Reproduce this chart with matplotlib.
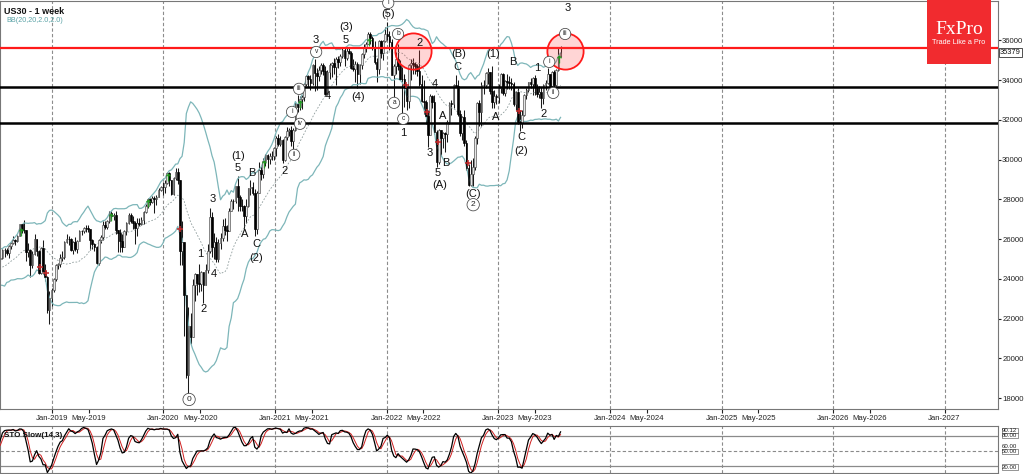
import numpy as np
import pandas as pd
import matplotlib
matplotlib.use("Agg")
import matplotlib.pyplot as plt
import matplotlib.dates as mdates
from matplotlib.patches import Rectangle
import matplotlib.transforms as mtransforms

plt.rcParams['font.family'] = ['Liberation Sans', 'DejaVu Sans']

# ---------------- weekly OHLC data (US30) ----------------
first_open = 25310
close_2018a = [24538, 25335, 24946, 23533, 24103, 23933, 24360, 24463, 24311, 24263,
               24831, 24715, 24753, 24635, 25317, 25090, 24581, 24271, 24456, 25019]
high_2018a = [25800, 25400, 25450, 25000, 24400, 24550, 24500, 24860, 24600, 24400,
              24900, 24970, 25000, 24900, 25400, 25400, 25100, 24700, 24600, 25150]
low_2018a = [24300, 24400, 24800, 23500, 23350, 23350, 23900, 24300, 23800, 23350,
             24150, 24500, 24400, 24200, 24600, 24800, 24500, 24100, 24000, 24400]

close_2018 = [25058, 25451, 25463, 25313, 25669, 25790, 25965, 25917, 26154, 26743, 26458, 26447,
              25340, 25444, 24688, 25270, 25989, 25413, 24286, 25538, 24389, 24100, 22445, 23062]
high_2018 = [25215, 25530, 25560, 25550, 25700, 25880, 26170, 26000, 26200, 26770, 26770, 26950,
             26480, 25800, 25520, 25410, 26280, 26020, 25460, 25590, 25980, 24760, 24130, 23380]
low_2018 = [24880, 24990, 25080, 25190, 25050, 25520, 25740, 25700, 25850, 26150, 26300, 26300,
            24900, 25120, 24120, 24540, 25200, 25150, 24270, 24260, 24240, 23880, 22310, 21710]

close_2019 = [23433, 23996, 24706, 24737, 25064, 25106, 25883, 26031, 26026, 25450, 25849, 25502, 25929,
              26425, 26412, 26559, 26543, 26505, 25942, 25764, 25586, 24815, 25984, 26090, 26719, 26600,
              26922, 27332, 27154, 27192, 26485, 26287, 25886, 25629, 26403, 26797, 27220, 26935, 26820,
              26573, 26817, 26770, 26958, 27347, 27681, 28005, 27876, 28051, 28015, 28135, 28455, 28645]
high_2019 = [23520, 24060, 24740, 24820, 25250, 25400, 25900, 26240, 26160, 26070, 25890, 26110, 25960,
             26460, 26480, 26600, 26700, 26700, 26490, 26000, 25800, 25640, 26000, 26200, 26910, 26930,
             26960, 27400, 27400, 27300, 27400, 26480, 26500, 26250, 26450, 26850, 27300, 27310, 27150,
             26930, 27050, 27080, 27110, 27400, 27780, 28090, 28080, 28170, 28175, 28220, 28600, 28700]
low_2019 = [22640, 23330, 23900, 24480, 24600, 24880, 25020, 25800, 25700, 25400, 25260, 25400, 25300,
            25910, 26210, 26320, 26360, 26340, 25480, 25510, 25390, 24750, 24680, 25800, 25950, 26500,
            26500, 26800, 27050, 26950, 26280, 25340, 25340, 25350, 25640, 26220, 26750, 26800, 26530,
            25740, 26140, 26650, 26710, 26750, 27300, 27580, 27700, 27800, 27330, 27700, 28100, 28400]

close_2020 = [28634, 28823, 29348, 28990, 28256, 29103, 29398, 28992, 25409, 25865, 23185, 19174, 21637,
              21053, 23719, 24242, 23775, 23724, 24331, 23685, 24465, 25383, 27111, 25605, 25871, 25016,
              25827, 26075, 26672, 26470, 26428, 27433, 27931, 27930, 28654, 28133, 27666, 27657, 27174,
              27683, 28586, 28606, 28335, 26502, 28323, 29479, 29263, 29910, 30218, 30046, 30179, 30199]
high_2020 = [28870, 28990, 29375, 29370, 29000, 29150, 29570, 29570, 28900, 26900, 25100, 22400, 22600,
             22300, 24000, 24300, 24100, 24760, 24410, 24200, 24750, 25760, 27580, 27350, 26300, 26100,
             26000, 26300, 27000, 27050, 26700, 27550, 28000, 28000, 28700, 29200, 28200, 28000, 27700,
             28000, 28600, 28960, 28890, 28500, 28400, 29900, 29700, 30100, 30300, 30300, 30350, 30460]
low_2020 = [28200, 28300, 28800, 28700, 28200, 28200, 29000, 28800, 24680, 24700, 21150, 19000, 18210,
            20730, 21700, 22900, 23200, 23350, 23400, 22800, 23800, 24300, 25300, 25100, 25000, 24840,
            24840, 25500, 25900, 26200, 25900, 26400, 27400, 27500, 27800, 27400, 27400, 27400, 26530,
            26800, 27600, 28200, 28200, 26140, 26270, 28700, 29000, 29100, 29700, 29600, 29800, 30000]

close_2021 = [30606, 31098, 30814, 30997, 29983, 31148, 31458, 31494, 30932, 31496, 32779, 32628, 33072,
              33153, 33800, 34200, 34043, 33875, 34778, 34382, 34208, 34529, 34756, 34480, 33290, 34433,
              34786, 34870, 34688, 35061, 34935, 35208, 35515, 35120, 35455, 35369, 34607, 34584, 34798,
              34326, 34746, 35295, 35677, 35820, 36328, 36100, 35602, 34899, 34580, 35971, 35365, 35951, 36338]
high_2021 = [30640, 31200, 31270, 31200, 31050, 31200, 31650, 31600, 31700, 31600, 32900, 33230, 33180,
             33260, 33850, 34260, 34260, 34260, 34830, 35090, 34600, 34700, 34850, 34850, 34700, 34500,
             34850, 34900, 35100, 35180, 35200, 35300, 35630, 35630, 35630, 35630, 35450, 35050, 34950,
             34920, 34800, 35350, 35800, 35900, 36450, 36450, 36200, 35950, 35100, 36000, 36000, 36000, 36700]
low_2021 = [30000, 30200, 30700, 30700, 29850, 29950, 31000, 31200, 30700, 30550, 31430, 32400, 32500,
            32560, 32950, 33700, 33650, 33500, 33740, 33470, 33500, 33950, 34300, 34250, 33270, 33250,
            34050, 34150, 34300, 33740, 34600, 34700, 35100, 34700, 35000, 35300, 34550, 34450, 33900,
            33600, 33800, 34550, 35100, 35400, 35800, 35800, 35500, 34800, 33900, 34300, 35100, 35000, 35900]

close_2022 = [36232, 35912, 34265, 34725, 35089, 34738, 34079, 34059, 33615, 32945, 34755, 34862, 34818,
              34721, 34451, 33811, 32977, 32899, 32197, 31262, 33213, 32900, 31393, 29888, 31501, 31097,
              31338, 31288, 31899, 32845, 32803, 33761, 33706, 32283, 31318, 32151, 30822, 29590, 28725,
              29297, 29635, 31083, 32861, 32403, 33748, 33746, 34347, 34430, 33476, 32920, 33204, 33147]
high_2022 = [36950, 36500, 36070, 34800, 35400, 35800, 35000, 34650, 34300, 33550, 34800, 35050, 35100,
             34900, 34800, 35500, 34250, 34000, 33000, 32500, 33300, 33270, 33250, 31500, 31550, 31500,
             31400, 31400, 32000, 32900, 33000, 33800, 34280, 34000, 32500, 32200, 32500, 31000, 29800,
             30000, 30100, 31200, 32900, 33000, 33900, 34000, 34400, 34600, 34400, 34700, 33500, 33300]
low_2022 = [36000, 35500, 34250, 33150, 34300, 34500, 34000, 32270, 32630, 32500, 32600, 34000, 34300,
            34300, 34200, 33700, 32900, 32300, 31800, 30650, 31250, 32600, 31300, 29650, 29800, 30200,
            30600, 30400, 30900, 31800, 32250, 32600, 33650, 32200, 31200, 31000, 30700, 29500, 28700,
            28700, 28660, 29500, 30800, 31700, 31700, 33300, 33600, 33800, 33300, 32600, 32600, 32800]

close_2023 = [33631, 34303, 33375, 33978, 33926, 33869, 33827, 32817, 33391, 31910, 31862, 32238, 33274,
              33485, 33887, 33809, 34098, 33675, 33301, 33427, 33093, 33763, 33877, 34299, 33727, 34408,
              33734, 34509, 35228, 35379]
high_2023 = [33800, 34350, 34340, 34000, 34330, 34200, 34100, 33900, 33480, 33600, 32500, 32500, 33300,
             33630, 33900, 34100, 34150, 34250, 33800, 33700, 33650, 33800, 34000, 34600, 34300, 34450,
             34500, 34550, 35680, 35700]
low_2023 = [32850, 33350, 33250, 33200, 33580, 33550, 33500, 32700, 32500, 31800, 31430, 31600, 32200,
            33050, 33400, 33600, 33250, 33230, 33150, 33100, 32600, 32800, 33500, 33800, 33700, 33600,
            33600, 33700, 34450, 35150]

first_week = '2018-02-26'

# horizontal levels
red_level = 35600
black_levels = [33680, 31850]
last_price_text = '35379'

# Elliott wave labels
wave_text = ["(1)", "5", "B", "3", "A", "C", "(2)", "1", "4", "2", "2", "4", "3", "(3)", "5", "(4)",
             "(5)", "1", "2", "4", "(B)", "C", "A", "3", "B", "5", "(A)", "(C)", "(1)", "A", "B", "C",
             "(2)", "1", "2", "3"]
wave_date = ["2020-09-01", "2020-09-01", "2020-10-17", "2020-06-11", "2020-09-24", "2020-10-30",
             "2020-10-30", "2020-04-30", "2020-06-15", "2020-05-13", "2021-02-02", "2021-06-23",
             "2021-05-15", "2021-08-21", "2021-08-21", "2021-09-29", "2022-01-06", "2022-02-24",
             "2022-04-20", "2022-06-09", "2022-08-23", "2022-08-20", "2022-07-02", "2022-05-20",
             "2022-07-15", "2022-06-18", "2022-06-22", "2022-10-11", "2022-12-16", "2022-12-25",
             "2023-02-19", "2023-03-17", "2023-03-17", "2023-05-09", "2023-05-28", "2023-08-15"]
wave_price = [30200, 29590, 29340, 28035, 26275, 25775, 25070, 25270, 24265, 22505, 29440, 33210,
              36025, 36680, 36025, 33160, 37330, 31350, 35875, 33815, 35320, 34670, 32205, 30345,
              29845, 29340, 28740, 28285, 35320, 32155, 34920, 31150, 30445, 34620, 32305, 37635]

circ_text = ["0", "ii", "i", "iv", "iii", "v", "i", "b", "a", "c", "2", "i", "ii", "iii"]
circ_date = ["2020-03-25", "2021-03-04", "2021-02-25", "2021-03-23", "2021-03-20", "2021-05-15",
             "2022-01-06", "2022-02-07", "2022-01-25", "2022-02-24", "2022-10-11", "2023-06-17",
             "2023-06-30", "2023-08-08"]
circ_price = [17935, 30245, 32405, 31805, 33565, 35420, 37885, 36325, 32860, 32055, 27735, 34920,
              33360, 36325]

highlight_date = ["2022-03-27", "2023-08-07"]
highlight_price = [35470, 35450]

up_sig_date = ["2018-09-22", "2019-07-13", "2019-11-11", "2020-01-16", "2020-11-25", "2021-03-23",
               "2021-11-04", "2023-07-20"]
up_sig_price = [26377, 27130, 27834, 29141, 29794, 32809, 35925, 35070]
dn_sig_date = ["2018-11-23", "2018-12-12", "2020-02-24", "2022-03-06", "2022-05-13", "2022-06-18",
               "2022-09-25", "2023-03-11"]
dn_sig_price = [24618, 24317, 26528, 33764, 32407, 30899, 29844, 32457]

stoch_labels = ["90.12", "80.00", "60.00", "50.00", "20.00"]
stoch_label_vals = [92.0, 82.0, 59.5, 49.0, 17.0]

# ---------------- assemble ----------------
closes = np.array(close_2018a + close_2018 + close_2019 + close_2020 + close_2021 + close_2022 + close_2023, float)
highs = np.array(high_2018a + high_2018 + high_2019 + high_2020 + high_2021 + high_2022 + high_2023, float)
lows = np.array(low_2018a + low_2018 + low_2019 + low_2020 + low_2021 + low_2022 + low_2023, float)
opens = np.concatenate([[first_open], closes[:-1]])
highs = np.maximum(highs, np.maximum(opens, closes))
lows = np.minimum(lows, np.minimum(opens, closes))
dates = pd.date_range(first_week, periods=len(closes), freq='W-MON')
x = mdates.date2num(dates.to_pydatetime())

s_close = pd.Series(closes)
mid = s_close.rolling(20).mean()
sd = s_close.rolling(20).std(ddof=0)
upper = mid + 2 * sd
lower = mid - 2 * sd

ll = pd.Series(lows).rolling(14).min()
hh = pd.Series(highs).rolling(14).max()
K = 100 * (s_close - ll).rolling(3).sum() / (hh - ll).rolling(3).sum()
D = K.rolling(3).mean()

# ---------------- figure ----------------
W, H = 1024, 474
fig = plt.figure(figsize=(W / 100, H / 100), dpi=100)
fig.patch.set_facecolor('white')

ax = fig.add_axes([0.0, 1 - 409 / H, 998 / W, 408 / H])
ax2 = fig.add_axes([0.0, 1 - 473 / H, 998 / W, 47.5 / H])

xmin = mdates.date2num(pd.Timestamp('2018-07-15'))
xmax = mdates.date2num(pd.Timestamp('2027-06-25'))

# grid (Jan of each year)
for yr in range(2019, 2028):
    gx = mdates.date2num(pd.Timestamp(f'{yr}-01-01'))
    for a in (ax, ax2):
        a.axvline(gx, color='#8c8c8c', lw=0.8, ls=(0, (3, 2)), zorder=0)

# candles
up = closes >= opens
ax.vlines(x, lows, highs, color='#1a1a1a', lw=0.75, zorder=2)
body_bot = np.minimum(opens, closes)
body_h = np.maximum(np.abs(closes - opens), 8)
ax.bar(x[up], body_h[up], bottom=body_bot[up], width=5.5, color='#e6e6e6', edgecolor='#4a4a4a',
       lw=0.45, zorder=3)
ax.bar(x[~up], body_h[~up], bottom=body_bot[~up], width=5.5, color='#000000', edgecolor='#000000',
       lw=0.45, zorder=3)

# Bollinger
ax.plot(x, upper, color='#7db6b9', lw=0.9, zorder=2)
ax.plot(x, lower, color='#7db6b9', lw=0.9, zorder=2)
ax.plot(x, mid, color='#8e9c9c', lw=0.6, ls=(0, (2, 2)), zorder=2)

# levels
ax.axhline(red_level, color='#ff1a1a', lw=1.6, zorder=4)
for lv in black_levels:
    ax.axhline(lv, color='black', lw=1.8, zorder=4)

# highlight circles
hx = mdates.date2num(pd.to_datetime(highlight_date).to_pydatetime())
ax.scatter(hx, highlight_price, s=680, facecolor=(1, 0.25, 0.25, 0.22), edgecolor='#ff1a1a',
           lw=1.3, zorder=5)

# signals
ux = mdates.date2num(pd.to_datetime(up_sig_date).to_pydatetime())
dx = mdates.date2num(pd.to_datetime(dn_sig_date).to_pydatetime())
ax.scatter(ux, up_sig_price, marker=r'$\uparrow$', s=28, color='#1f9a1f', zorder=6, lw=0.3)
ax.scatter(dx, dn_sig_price, marker='+', s=22, color='#c0282a', zorder=6, lw=1.1)

# wave labels
wx = mdates.date2num(pd.to_datetime(wave_date).to_pydatetime())
for t, xx, yy in zip(wave_text, wx, wave_price):
    ax.text(xx, yy, t, ha='center', va='center', fontsize=8, color='#111111', zorder=7)
cx = mdates.date2num(pd.to_datetime(circ_date).to_pydatetime())
for t, xx, yy in zip(circ_text, cx, circ_price):
    fs = 6 if t in ('0', '2') else 4.8
    ax.text(xx, yy, t, ha='center', va='center', fontsize=fs, color='#222222', zorder=7,
            bbox=dict(boxstyle='circle,pad=0.32', fc='white', ec='#444444', lw=0.55))

ax.set_xlim(xmin, xmax)
ax.set_ylim(17455, 37985)
ax.yaxis.tick_right()
ax.set_yticks(np.arange(18000, 36001, 2000))
ax.tick_params(axis='y', labelsize=5.6, length=2, pad=1, colors='#222222', direction='out')
tick_dates = []
for yr in range(2019, 2028):
    tick_dates.append(pd.Timestamp(f'{yr}-01-01'))
    if yr < 2027:
        tick_dates.append(pd.Timestamp(f'{yr}-05-01'))
ax.set_xticks(mdates.date2num([d.to_pydatetime() for d in tick_dates]))
ax.xaxis.set_major_formatter(mdates.DateFormatter('%b-%Y'))
ax.tick_params(axis='x', labelsize=5.6, length=3, pad=1.5, colors='#222222', direction='out')
for sp in ax.spines.values():
    sp.set_color('#777777')
    sp.set_linewidth(0.8)

# last price tag
trans = mtransforms.blended_transform_factory(ax.transAxes, ax.transData)
ax.text(1.002, 35379, last_price_text, transform=trans, fontsize=5.4, va='center', ha='left',
        color='#111111', bbox=dict(boxstyle='square,pad=0.12', fc='white', ec='#333333', lw=0.6),
        zorder=8, clip_on=False)

ax.text(0.004, 0.985, 'US30 - 1 week', transform=ax.transAxes, fontsize=6.5, fontweight='bold',
        ha='left', va='top', color='#111111')
ax.text(0.006, 0.962, 'BB(20,20,2.0,2.0)', transform=ax.transAxes, fontsize=5.2,
        ha='left', va='top', color='#5aa2a6')

# stochastic panel
ax2.plot(x, D, color='#d02020', lw=0.7, zorder=3)
ax2.plot(x, K, color='black', lw=0.9, zorder=4)
ax2.axhline(80, color='#8a8a8a', lw=0.9, zorder=1)
ax2.axhline(20, color='#8a8a8a', lw=0.9, zorder=1)
ax2.axhline(50, color='#8a8a8a', lw=0.8, ls=(0, (3, 2)), zorder=1)
ax2.set_xlim(xmin, xmax)
ax2.set_ylim(5, 102.5)
ax2.set_xticks([])
ax2.set_yticks([])
for sp in ax2.spines.values():
    sp.set_color('#777777')
    sp.set_linewidth(0.8)
ax2.text(0.004, 0.86, 'STO Slow(14,3)', transform=ax2.transAxes, fontsize=5.8, fontweight='bold',
         ha='left', va='top', color='#111111', zorder=6)
trans2 = mtransforms.blended_transform_factory(ax2.transAxes, ax2.transData)
for lab, v in zip(stoch_labels, stoch_label_vals):
    boxed = lab != '60.00'
    kw = dict(bbox=dict(boxstyle='square,pad=0.05', fc='white', ec='#444444', lw=0.4)) if boxed else {}
    ax2.text(1.004, v, lab, transform=trans2, fontsize=4.4, va='center', ha='left', color='#222222',
             clip_on=False, **kw)

# FxPro logo
logo = Rectangle((927 / W, 1 - 64 / H), 64 / W, 64 / H, transform=fig.transFigure,
                 facecolor='#f12b2f', edgecolor='none', zorder=10)
fig.patches.append(logo)
fig.text(959 / W, 1 - 29 / H, 'FxPro', fontsize=14, color='white', ha='center', va='center',
         family=['Liberation Serif', 'DejaVu Serif'], zorder=11)
fig.text(959 / W, 1 - 42 / H, 'Trade Like a Pro', fontsize=5.2, color='white', ha='center',
         va='center', zorder=11)

fig.savefig('out.png', dpi=100)
